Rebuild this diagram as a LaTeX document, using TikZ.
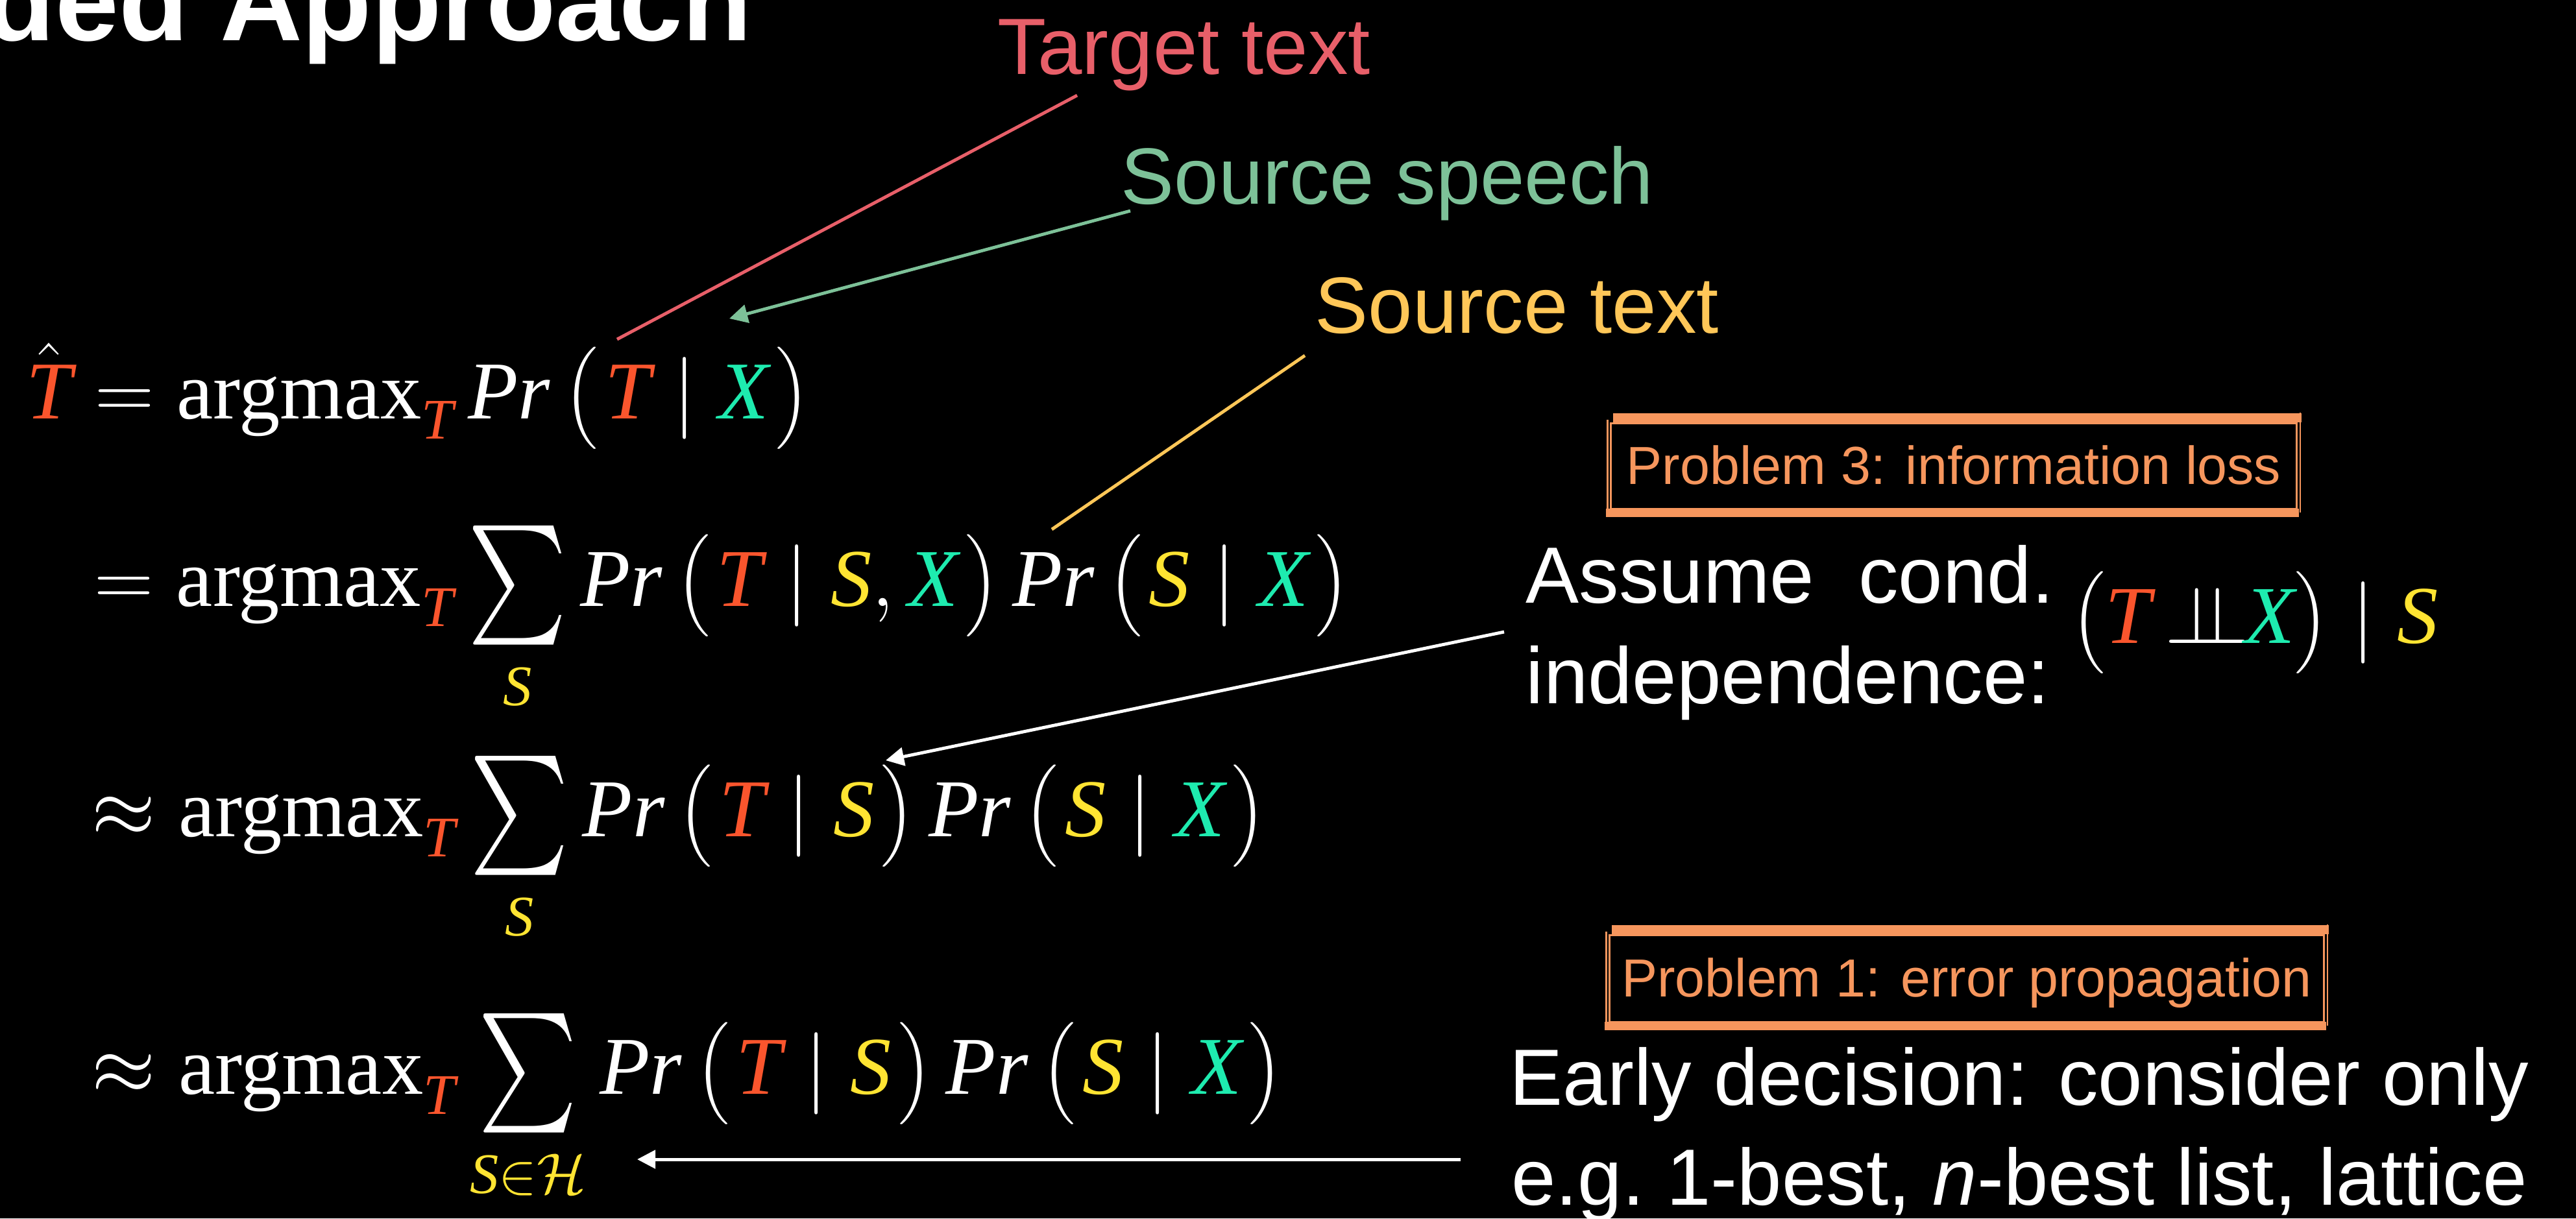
\RequirePackage{fix-cm}
\documentclass[tikz,border=0pt]{standalone}
\usepackage{amsmath}
\usepackage{graphicx}
\usepackage{fontspec}
\setmainfont{Liberation Sans}
\newfontfamily\tms{Liberation Serif}
\usetikzlibrary{arrows.meta}
\definecolor{tred}{RGB}{250,85,45}
\definecolor{xcol}{RGB}{30,235,175}
\definecolor{scol}{RGB}{255,228,50}
\definecolor{tgtc}{RGB}{232,95,105}
\definecolor{spc}{RGB}{125,193,152}
\definecolor{stc}{RGB}{255,199,88}
\definecolor{probc}{RGB}{246,150,93}
\newcommand\vT{\text{\tms\itshape\color{tred}T}}
\newcommand\vX{\text{\tms\itshape\color{xcol}X}}
\newcommand\vS{\text{\tms\itshape\color{scol}S}}
\newcommand\PPr{\text{\tms\itshape Pr}}
\newcommand\amx{\mathop{\text{\tms argmax}}\nolimits}
\newcommand\bsum{\mathop{\vcenter{\hbox{\scalebox{1.65}[2.1]{$\textstyle\sum$}}}}\limits}
\newcommand\limstrut{\rule{0pt}{0.62em}}
\newcommand\lp{\bigl(\mkern1.5mu}
\newcommand\rp{\mkern1.5mu\bigr)}
\newcommand\indep{\mkern3mu{\perp\mkern-9.5mu\perp}\mkern-1mu}
\begin{document}
\begin{tikzpicture}[
  lbl/.style={inner sep=0pt, font=\fontsize{35}{42}\selectfont},
  wtxt/.style={inner sep=0pt, text=white, font=\fontsize{35}{42}\selectfont},
  eq/.style={inner sep=0pt, text=white, font=\fontsize{36}{43.2}\selectfont},
  conn/.style={line width=1.4pt},
  tip/.style={-{Triangle[length=8pt,width=8pt]}},
  probbox/.style={inner sep=0pt, text=probc, font=\fontsize{23.5}{28}\selectfont, text height=0.6cm, text depth=0cm},
  thick band/.style={draw=probc, line width=3.8pt},
  thin edge/.style={draw=probc, line width=0.8pt}
]
\fill[black] (0,0) rectangle (39.70,-18.78);
\useasboundingbox (0,0) rectangle (39.70,-18.78);

% title
\node[anchor=base east, inner sep=0pt, text=white, font=\fontsize{50}{60}\selectfont\bfseries] (title) at (11.60,-0.62) {ded Approach};

% labels
\node[lbl, text=tgtc, anchor=base west] (tgt) at (15.37,-1.14) {Target text};
\node[lbl, text=spc, anchor=base west] (spe) at (17.27,-3.14) {Source speech};
\node[lbl, text=stc, anchor=base west] (stx) at (20.26,-5.13) {Source text};

% equations
\node[eq, anchor=base west] (l1) at (0.40,-6.45) {$\displaystyle \hat{\vT} = \amx_{\vT} \PPr\,\lp\vT \mid \vX\rp$};
\node[eq, anchor=base west] (l2) at (1.45,-9.34) {$\displaystyle = \amx_{\vT} \bsum_{\limstrut\vS} \PPr\,\lp\vT \mid \vS, \vX\rp\,\PPr\,\lp\vS \mid \vX\rp$};
\node[eq, anchor=base west] (l3) at (1.41,-12.89) {$\displaystyle \approx \amx_{\vT} \bsum_{\limstrut\vS} \PPr\,\lp\vT \mid \vS\rp\,\PPr\,\lp\vS \mid \vX\rp$};
\node[eq, anchor=base west] (l4) at (1.41,-16.86) {$\displaystyle \approx \amx_{\vT} \bsum_{\limstrut\vS{\color{scol}\in\mathcal{H}}} \PPr\,\lp\vT \mid \vS\rp\,\PPr\,\lp\vS \mid \vX\rp$};

% problem boxes
\node[probbox, minimum width=10.70cm, minimum height=1.59cm] (p3) at (30.11,-7.165) {Problem 3: information loss};
\node[probbox, minimum width=11.14cm, minimum height=1.61cm] (p1) at (30.31,-15.065) {Problem 1: error propagation};
\foreach \b in {p3,p1}{
  \draw[thin edge] ([xshift=2pt,yshift=-4.5pt]\b.north west) rectangle ([xshift=-2pt,yshift=3.5pt]\b.south east);
  \draw[thin edge] ([xshift=0.5pt,yshift=-3pt]\b.north west) -- ([xshift=0.5pt]\b.south west);
  \draw[thin edge] ([xshift=-0.5pt]\b.north east) -- ([xshift=-0.5pt,yshift=2pt]\b.south east);
  \draw[thick band] ([xshift=3pt,yshift=-2.2pt]\b.north west) -- ([yshift=-2.2pt]\b.north east);
  \draw[thick band] ([yshift=1.8pt]\b.south west) -- ([xshift=-1pt,yshift=1.8pt]\b.south east);
}

% assumption text
\node[wtxt, anchor=base west] (as1) at (23.51,-9.29) {Assume~ cond.};
\node[wtxt, anchor=base west] (as2) at (23.51,-10.84) {independence:};
\node[eq, anchor=base west] (ind) at (31.92,-9.91) {$\bigl(\vT \indep \vX\bigr) \mid \vS$};

% early decision text
\node[wtxt, anchor=base] (ed1) at (31.12,-17.03) {Early decision: consider only};
\node[wtxt, anchor=base] (ed2) at (31.12,-18.57) {e.g.\ 1-best, \textit{n}-best list, lattice};

% connectors
\coordinate (tgtA) at (16.60,-1.47);
\coordinate (tgtB) at (9.51,-5.23);
\coordinate (speA) at (17.42,-3.25);
\coordinate (speB) at (11.24,-4.91);
\coordinate (stxA) at (20.11,-5.48);
\coordinate (stxB) at (16.21,-8.16);
\coordinate (asA) at (23.18,-9.74);
\coordinate (asB) at (13.65,-11.72);
\coordinate (edA) at (22.51,-17.87);
\coordinate (edB) at (9.82,-17.87);
\draw[conn, tgtc] (tgtA) -- (tgtB);
\draw[conn, spc, tip] (speA) -- (speB);
\draw[conn, stc] (stxA) -- (stxB);
\draw[conn, white, tip] (asA) -- (asB);
\draw[conn, white, tip] (edA) -- (edB);
\end{tikzpicture}
\end{document}
